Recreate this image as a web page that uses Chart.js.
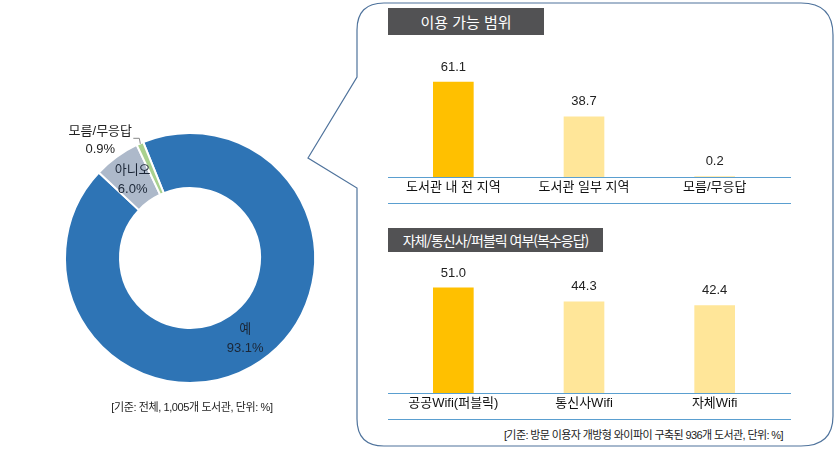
<!DOCTYPE html>
<html lang="ko">
<head>
<meta charset="utf-8">
<script src="https://cdn.jsdelivr.net/npm/chart.js@4.4.1/dist/chart.umd.min.js"></script>
<style>
  html, body { margin: 0; padding: 0; background: #fff; }
  body { width: 835px; height: 449px; position: relative; overflow: hidden;
         font-family: "Liberation Sans", "Noto Sans CJK KR", sans-serif; }
  canvas { position: absolute; }
  .title { position: absolute; background: #525254; color: #fff; text-align: center;
           font-family: "Noto Sans CJK KR", sans-serif; }
  .note { position: absolute; font-size: 11px; color: #222; white-space: nowrap; letter-spacing: -0.4px; }
  svg { position: absolute; left: 0; top: 0; }
</style>
</head>
<body>
<svg width="835" height="449">
  <path d="M 384 3 H 801 Q 833 3 833 35 V 416 Q 833 446 801 446 H 384 Q 357 446 357 419 V 188 L 308 158 L 357 77 V 30 Q 357 3 384 3 Z"
        fill="none" stroke="#4f739c" stroke-width="1.2"/>
</svg>

<canvas id="donut" width="380" height="316" style="left:0;top:100px"></canvas>
<canvas id="usage" width="403" height="169" style="left:388px;top:40px"></canvas>
<canvas id="wifi" width="403" height="163" style="left:388px;top:262px"></canvas>

<div class="title" style="left:388px;top:8px;width:156px;height:27px;line-height:27px;font-size:15px">이용 가능 범위</div>
<div class="title" style="left:388px;top:228px;width:215px;height:24px;line-height:24px;font-size:14px;letter-spacing:-1px">자체/통신사/퍼블릭 여부(복수응답)</div>

<div class="note" style="left:92px;top:398px;width:200px;text-align:center">[기준: 전체, 1,005개 도서관, 단위: %]</div>
<div class="note" style="right:52px;top:426px;letter-spacing:-0.6px">[기준: 방문 이용자 개방형 와이파이 구축된 936개 도서관, 단위: %]</div>

<script>
const donutLabels = ['예', '아니오', '모름/무응답'];
const donutValues = [93.1, 6.0, 0.9];
const donutColors = ['#2e74b5', '#adb9ca', '#a9d18e'];

const usageLabels = ['도서관 내 전 지역', '도서관 일부 지역', '모름/무응답'];
const usageValues = [61.1, 38.7, 0.2];

const wifiLabels = ['공공Wifi(퍼블릭)', '통신사Wifi', '자체Wifi'];
const wifiValues = [51.0, 44.3, 42.4];

const barColors = ['#ffc000', '#ffe699', '#ffe699'];
const FONT = '"Liberation Sans", "Noto Sans CJK KR", sans-serif';

// 막대 위 수치
const valueLabels = {
    id: 'valueLabels',
    afterDatasetsDraw(chart) {
        const ctx = chart.ctx;
        const values = chart.data.datasets[0].data;
        ctx.save();
        ctx.font = '13px ' + FONT;
        ctx.fillStyle = '#222';
        ctx.textAlign = 'center';
        ctx.textBaseline = 'middle';
        chart.getDatasetMeta(0).data.forEach((bar, i) => {
            ctx.fillText(values[i].toFixed(1), bar.x, bar.y - 15);
        });
        ctx.restore();
    }
};

// 기준선 두 줄
const baseLines = {
    id: 'baseLines',
    afterDraw(chart) {
        const { ctx, chartArea } = chart;
        ctx.save();
        ctx.strokeStyle = '#5a9fd0';
        ctx.lineWidth = 1;
        [chartArea.bottom + 0.5, chartArea.bottom + 26.5].forEach(y => {
            ctx.beginPath();
            ctx.moveTo(0, y);
            ctx.lineTo(chart.width, y);
            ctx.stroke();
        });
        ctx.restore();
    }
};

function barChart(id, labels, values, max) {
    return new Chart(document.getElementById(id), {
        type: 'bar',
        data: {
            labels: labels,
            datasets: [{ data: values, backgroundColor: barColors, barThickness: 40 }]
        },
        options: {
            responsive: false,
            animation: false,
            devicePixelRatio: 1,
            layout: { padding: { left: 0, right: 11, top: 0, bottom: 0 } },
            plugins: { legend: { display: false }, tooltip: { enabled: false } },
            scales: {
                x: {
                    grid: { display: false, drawTicks: false },
                    border: { display: false },
                    ticks: { color: '#111', padding: 3, font: { size: 13, family: FONT } },
                    afterFit: s => { s.height = 32; }
                },
                y: { display: false, min: 0, max: max }
            }
        },
        plugins: [valueLabels, baseLines]
    });
}

barChart('usage', usageLabels, usageValues, 88.1);
barChart('wifi', wifiLabels, wifiValues, 63.6);

// 도넛 라벨
const donutText = {
    id: 'donutText',
    afterDatasetsDraw(chart) {
        const ctx = chart.ctx;
        const arcs = chart.getDatasetMeta(0).data;
        ctx.save();
        ctx.font = '13px ' + FONT;
        ctx.textAlign = 'center';
        ctx.textBaseline = 'middle';
        arcs.forEach((arc, i) => {
            const pct = donutValues[i].toFixed(1) + '%';
            if (i < 2) {
                const p = arc.tooltipPosition();
                ctx.fillStyle = '#1b2636';
                ctx.fillText(donutLabels[i], p.x, p.y - 9);
                ctx.fillText(pct, p.x, p.y + 10);
            } else {
                const mid = (arc.startAngle + arc.endAngle) / 2;
                const r = arc.outerRadius + 4;
                const px = arc.x + Math.cos(mid) * r;
                const py = arc.y + Math.sin(mid) * r;
                ctx.strokeStyle = '#888';
                ctx.lineWidth = 1;
                ctx.beginPath();
                ctx.moveTo(px - 5, py - 1.5);
                ctx.lineTo(px + 1, py - 1.5);
                ctx.lineTo(px + 2, py + 4);
                ctx.stroke();
                ctx.fillStyle = '#222';
                ctx.fillText(donutLabels[i], px - 38, py - 8);
                ctx.fillText(pct, px - 38, py + 10);
            }
        });
        ctx.restore();
    }
};

new Chart(document.getElementById('donut'), {
    type: 'doughnut',
    data: {
        labels: donutLabels,
        datasets: [{ data: donutValues, backgroundColor: donutColors, borderColor: '#fff', borderWidth: 2 }]
    },
    options: {
        responsive: false,
        animation: false,
        devicePixelRatio: 1,
        radius: 125,
        cutout: '56%',
        rotation: -22,
        plugins: { legend: { display: false }, tooltip: { enabled: false } }
    },
    plugins: [donutText]
});
</script>
</body>
</html>
